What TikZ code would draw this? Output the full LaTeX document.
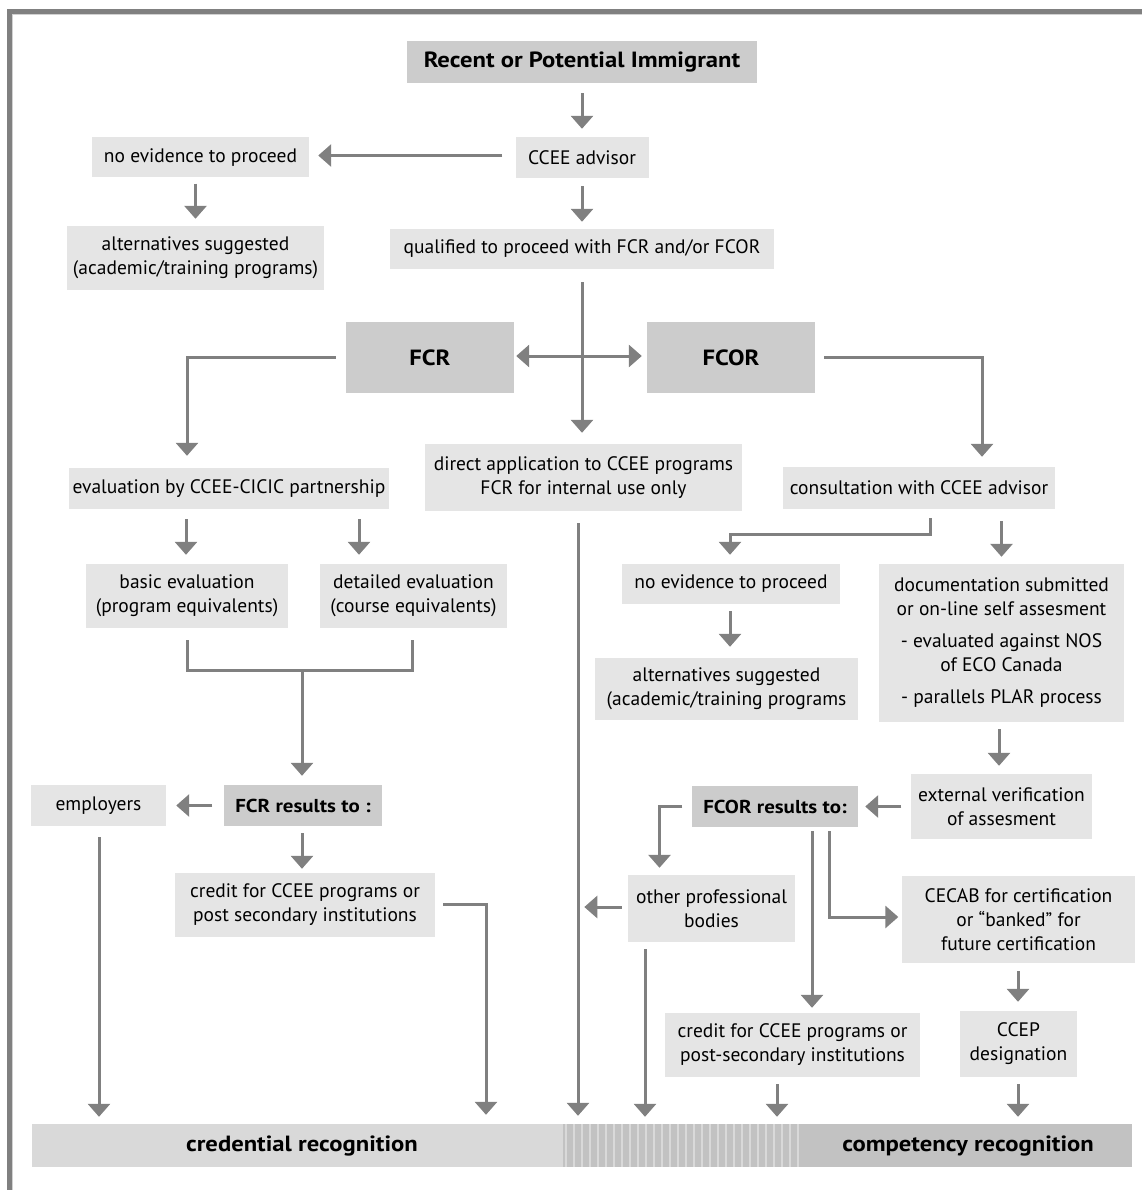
\documentclass[tikz,border=0pt]{standalone}
\usepackage{fontspec}
\setmainfont{PT Sans}[BoldFeatures={FakeStretch=1.12}]
\usetikzlibrary{arrows.meta,calc}
\definecolor{lineg}{gray}{0.5}
\definecolor{frameg}{gray}{0.5}
\definecolor{framel}{gray}{0.82}
\definecolor{boxl}{gray}{0.9}
\definecolor{boxd}{gray}{0.8}
\definecolor{barl}{gray}{0.85}
\definecolor{bard}{gray}{0.76}
\definecolor{stripel}{gray}{0.85}
\tikzset{
  lbox/.style={fill=boxl, inner sep=0pt, align=center, font=\fontsize{19.5}{24}\selectfont},
  dbox/.style={fill=boxd, inner sep=0pt, align=center, font=\fontsize{22}{24}\selectfont\bfseries},
  rbox/.style={fill=boxd, inner sep=0pt, align=center, font=\fontsize{18.7}{24}\selectfont\bfseries},
  bartext/.style={inner sep=0pt, font=\fontsize{22}{24}\selectfont\bfseries},
  arr/.style={draw=lineg, line width=3pt, -{Triangle[width=22pt,length=13pt]}},
  darr/.style={draw=lineg, line width=3pt, {Triangle[width=22pt,length=13pt]}-{Triangle[width=22pt,length=13pt]}},
  ln/.style={draw=lineg, line width=3pt},
}
\begin{document}
\begin{tikzpicture}[x=1pt,y=-1pt]
\useasboundingbox (0,0) rectangle (1142,1190);
% frame
\fill[frameg] (7,9) rectangle (1142,14);
\fill[framel] (12,14) rectangle (1142,15.5);
\fill[frameg] (7,9) rectangle (11.5,1190);
\fill[framel] (11.5,14) rectangle (12.5,1190);

% boxes
\node[dbox, minimum width=350pt, minimum height=42pt] (recent) at (582,62) {Recent or Potential Immigrant};
\node[lbox, minimum width=133pt, minimum height=41pt] (ccee) at (582,157.5) {CCEE advisor};
\node[lbox, minimum width=217pt, minimum height=40pt] (noev1) at (200.5,157.5) {no evidence to proceed};
\node[lbox, minimum width=257pt, minimum height=64pt] (alt1) at (195.5,258) {alternatives suggested\\(academic/training programs)};
\node[lbox, minimum width=384pt, minimum height=40pt] (qual) at (582,249) {qualified to proceed with FCR and/or FCOR};
\node[dbox, minimum width=168pt, minimum height=71pt] (fcr) at (430,357.5) {FCR};
\node[dbox, minimum width=168pt, minimum height=71pt] (fcor) at (731,357.5) {FCOR};
\node[lbox, minimum width=320pt, minimum height=41pt] (eval) at (229,488.5) {evaluation by CCEE-CICIC partnership};
\node[lbox, minimum width=317pt, minimum height=67pt] (direct) at (583.5,477.5) {direct application to CCEE programs\\FCR for internal use only};
\node[lbox, minimum width=272pt, minimum height=42pt] (consult) at (919,488) {consultation with CCEE advisor};
\node[lbox, minimum width=202pt, minimum height=64pt] (basic) at (187,596) {basic evaluation\\(program equivalents)};
\node[lbox, minimum width=187pt, minimum height=64pt] (detailed) at (413.5,596) {detailed evaluation\\(course equivalents)};
\node[lbox, minimum width=218pt, minimum height=40pt] (noev2) at (731,584) {no evidence to proceed};
\node[lbox, minimum width=263pt, minimum height=62pt] (alt2) at (726.5,689) {alternatives suggested\\(academic/training programs};
\node[lbox, minimum width=245pt, minimum height=158pt] (doc) at (1001.5,643) {documentation submitted\\or on-line self assesment\\[8pt]- evaluated against NOS\\of ECO Canada\\[8pt]- parallels PLAR process};
\node[lbox, minimum width=135pt, minimum height=41pt] (employers) at (98.5,805.5) {employers};
\node[rbox, minimum width=158pt, minimum height=41pt] (fcrres) at (303,805.5) {FCR results to :};
\node[lbox, minimum width=260pt, minimum height=64pt] (credit1) at (305,905) {credit for CCEE programs or\\post secondary institutions};
\node[lbox, minimum width=181pt, minimum height=65pt] (ext) at (1001.5,806.5) {external verification\\of assesment};
\node[rbox, minimum width=166pt, minimum height=41pt] (fcorres) at (775,806.5) {FCOR results to:};
\node[lbox, minimum width=167pt, minimum height=67pt] (other) at (711.5,908.5) {other professional\\bodies};
\node[lbox, minimum width=233pt, minimum height=87pt] (cecab) at (1018.5,919.5) {CECAB for certification\\or “banked” for\\future certification};
\node[lbox, minimum width=255pt, minimum height=64pt] (credit2) at (792.5,1045) {credit for CCEE programs or\\post-secondary institutions};
\node[lbox, minimum width=117pt, minimum height=66pt] (ccep) at (1018.5,1044) {CCEP\\designation};

% bottom bar
\node[inner sep=0pt, minimum width=1100pt, minimum height=43pt] (bar) at (582,1145.5) {};
\fill[barl] (bar.north west) rectangle ($(bar.south west)+(531,0)$);
\fill[bard] ($(bar.north west)+(531,0)$) rectangle (bar.south east);
\foreach \k in {0,...,29} {
  \fill[stripel] ($(bar.north west)+(533+8*\k,0)$) rectangle ($(bar.south west)+(535+8*\k,0)$);
}
\node[bartext] (credrec) at (302,1145.5) {credential recognition};
\node[bartext] (comprec) at (968,1145.5) {competency recognition};

% connectors
\draw[arr] ($(recent.south)+(0,10)$) -- ($(ccee.north)+(0,-8)$);
\draw[arr] ($(ccee.west)+(-13,-2)$) -- ($(noev1.east)+(9,-2)$);
\draw[arr] ($(noev1.south)+(-5,6)$) -- ($(alt1.north)+(0,-7)$);
\draw[arr] ($(ccee.south)+(0,8)$) -- ($(qual.north)+(0,-7)$);
\draw[arr] ($(qual.south)+(0,13)$) -- ($(direct.north -| qual.south)+(0,-11)$);
\draw[darr] ($(fcr.east)+(2,-1.5)$) -- ($(fcor.west)+(-5,-1.5)$);
\draw[arr] ($(fcr.west)+(-10,0)$) -| ($(basic.north |- eval.north)+(0,-12)$);
\draw[arr] ($(fcor.east)+(9,0)$) -| ($(consult.north)+(63,-10)$);
\draw[arr] ($(eval.south -| basic.south)+(-1,10)$) -- ($(basic.north)+(-1,-9)$);
\draw[arr] ($(eval.south)+(130,10)$) -- ($(detailed.north)+(-54.5,-9)$);
\draw[ln] ($(basic.south)+(0,12)$) -- ($(basic.south)+(0,42)$) -| ($(detailed.south)+(-1.5,12)$);
\coordinate (brk) at ($(fcrres.north |- basic.south)+(-1,42)$);
\draw[arr] (brk) -- ($(fcrres.north)+(-1,-9)$);
\draw[arr] ($(consult.south)+(11,9)$) |- ($(noev2.north)+(-1,-29)$) -- ($(noev2.north)+(-1,-9)$);
\draw[arr] ($(doc.north |- consult.south)+(0,12)$) -- ($(doc.north)+(0,-7)$);
\draw[arr] ($(noev2.south)+(-1,7)$) -- ($(alt2.north -| noev2.south)+(-1,-11)$);
\draw[arr] ($(direct.south)+(-5.5,12)$) -- ($(bar.north -| direct.south)+(-5.5,-8)$);
\draw[arr] ($(doc.south)+(-2.5,7)$) -- ($(ext.north)+(-2.5,-8)$);
\draw[arr] ($(ext.west)+(-9.5,0)$) -- ($(fcorres.east)+(7,0)$);
\draw[arr] ($(fcrres.west)+(-11.5,0)$) -- ($(employers.east)+(10,0)$);
\draw[arr] ($(fcrres.south)+(-1,7)$) -- ($(credit1.north -| fcrres.south)+(-1,-4)$);
\draw[arr] ($(credit1.east)+(8,-1)$) -| ($(bar.north)+(-96,-9)$);
\draw[arr] ($(employers.south)+(0.5,11)$) -- ($(bar.north -| employers.south)+(0.5,-7)$);
\draw[arr] ($(fcorres.west)+(-9.5,-0.5)$) -| ($(other.north)+(-52,-7)$);
\coordinate (otip) at ($(other.west)+(-43.5,-1.5)$);
\draw[arr] ($(other.west)+(-6,-1.5)$) -- (otip);
\draw[arr] ($(other.south)+(-66.5,7)$) -- ($(bar.north -| other.south)+(-66.5,-7)$);
\draw[arr] ($(fcorres.south)+(37,4)$) -- ($(credit2.north)+(19.5,-5)$);
\draw[arr] ($(fcorres.south)+(54,4)$) |- ($(cecab.west)+(-3.5,-2.5)$);
\draw[arr] ($(cecab.south)+(-0.5,8)$) -- ($(ccep.north)+(-0.5,-9)$);
\draw[arr] ($(credit2.south)+(-15.5,7)$) -- ($(bar.north -| credit2.south)+(-15.5,-7)$);
\draw[arr] ($(ccep.south)+(-0.5,7)$) -- ($(bar.north -| ccep.south)+(-0.5,-7)$);
\end{tikzpicture}
\end{document}
